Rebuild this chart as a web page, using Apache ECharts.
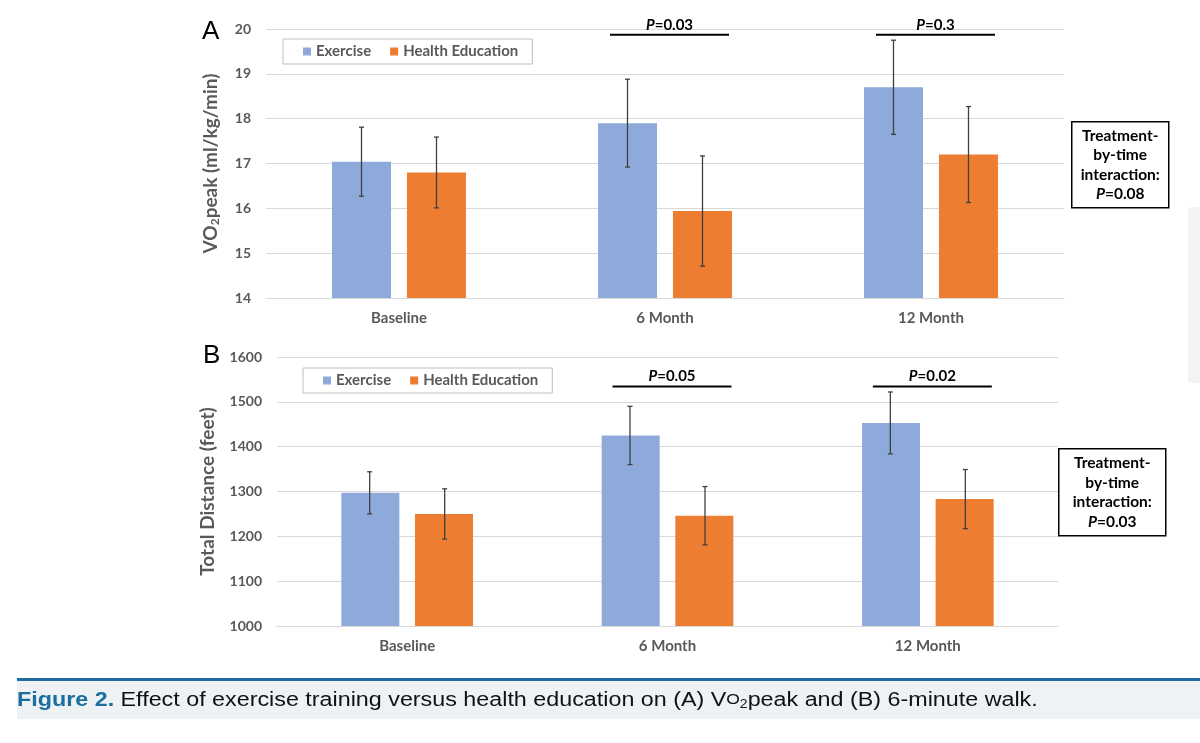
<!DOCTYPE html>
<html>
<head>
<meta charset="utf-8">
<title>Figure 2</title>
<script src="https://cdn.jsdelivr.net/npm/echarts@6/dist/echarts.min.js"></script>
<style>
  html, body { margin: 0; padding: 0; background: #fff; }
  #chart { width: 1200px; height: 743px; }
</style>
</head>
<body>
<div id="chart"></div>
<script>
// data
var categories = ["Baseline", "6 Month", "12 Month"];
var seriesNames = ["Exercise", "Health Education"];

// (A) VO2peak, ml/kg/min
var vo2Exercise = [17.04, 17.90, 18.70];
var vo2ExerciseErr = [0.77, 0.98, 1.05];
var vo2Health = [16.80, 15.94, 17.20];
var vo2HealthErr = [0.79, 1.23, 1.07];
var vo2Ticks = { min: 14, max: 20, step: 1 };
var vo2PValues = ["0.03", "0.3"];      // 6 Month, 12 Month
var vo2Interaction = "0.08";

// (B) 6-minute walk, total distance in feet
var walkExercise = [1297, 1425, 1453];
var walkExerciseErr = [47, 65, 69];
var walkHealth = [1250, 1246, 1283];
var walkHealthErr = [56, 65, 66];
var walkTicks = { min: 1000, max: 1600, step: 100 };
var walkPValues = ["0.05", "0.02"];
var walkInteraction = "0.03";

var caption = "Effect of exercise training versus health education on (A) V{sc|O}{sub|2}peak and (B) 6-minute walk.";

var BLUE = "#8eaadb", ORANGE = "#ed7d31", GREY = "#595959";
var FONT = "Lato";

// error bar pairs [cat, low, high]
function errData(mean, err) {
  return mean.map(function (m, i) { return [i, m - err[i], m + err[i]]; });
}

// custom renderer: whisker with small caps, shifted onto its bar
function errRender(shift) {
  return function (params, api) {
    var lo = api.coord([api.value(0), api.value(1)]);
    var hi = api.coord([api.value(0), api.value(2)]);
    var x = lo[0] + shift;
    var st = { stroke: "#404040", lineWidth: 1.3 };
    return {
      type: "group",
      children: [
        { type: "line", shape: { x1: x, y1: hi[1], x2: x, y2: lo[1] }, style: st },
        { type: "line", shape: { x1: x - 2.5, y1: hi[1], x2: x + 2.5, y2: hi[1] }, style: st },
        { type: "line", shape: { x1: x - 2.5, y1: lo[1], x2: x + 2.5, y2: lo[1] }, style: st }
      ]
    };
  };
}

// P value bracket above a category
function pRender(labels, lift) {
  return function (params, api) {
    var p = api.coord([api.value(0), api.value(1)]);
    var cx = p[0] + 4.5;
    return {
      type: "group",
      children: [
        { type: "line", shape: { x1: cx - 59.5, y1: p[1], x2: cx + 59.5, y2: p[1] },
          style: { stroke: "#000", lineWidth: 2 } },
        { type: "text", x: cx, y: p[1] - lift,
          style: {
            text: "{i|P}=" + labels[params.dataIndex],
            align: "center", verticalAlign: "bottom",
            fontFamily: FONT, fontWeight: "bold", fontSize: 15, fill: "#000",
            rich: { i: { fontStyle: "italic", fontWeight: "bold", fontSize: 15, fontFamily: FONT, fill: "#000" } }
          } }
      ]
    };
  };
}

function interactionBox(left, top, w, h, pv) {
  return {
    type: "group", left: left, top: top,
    children: [
      { type: "rect", shape: { x: 0, y: 0, width: w, height: h },
        style: { fill: "#fff", stroke: "#000", lineWidth: 1.5 } },
      { type: "text", x: w / 2, y: h / 2,
        style: {
          text: "Treatment-\nby-time\ninteraction:\n{i|P}=" + pv,
          align: "center", verticalAlign: "middle", lineHeight: 19.5,
          fontFamily: FONT, fontWeight: "bold", fontSize: 15.5, fill: "#000",
          rich: { i: { fontStyle: "italic", fontWeight: "bold", fontSize: 15.5, fontFamily: FONT, fill: "#000", lineHeight: 19.5 } }
        } }
    ]
  };
}

function legendAt(left, top) {
  return {
    left: left, top: top, orient: "horizontal",
    data: seriesNames, icon: "rect", itemWidth: 8, itemHeight: 8, itemGap: 19,
    padding: [5, 14, 5, 20], borderColor: "#bfbfbf", borderWidth: 1,
    selectedMode: false,
    textStyle: { fontFamily: FONT, fontWeight: "bold", fontSize: 15, color: GREY }
  };
}

function yAxisFor(ticks, gridIdx, nameRich, gap) {
  return {
    type: "value", gridIndex: gridIdx,
    min: ticks.min, max: ticks.max, interval: ticks.step,
    name: nameRich, nameLocation: "middle", nameGap: gap, nameRotate: 90,
    nameTextStyle: {
      fontFamily: FONT, fontWeight: "bold", fontSize: 19, color: GREY,
      rich: { sub: { fontFamily: FONT, fontWeight: "bold", fontSize: 12, color: GREY, verticalAlign: "bottom", padding: [9, 0, 0, 0] } }
    },
    axisLabel: { fontFamily: FONT, fontWeight: "bold", fontSize: 14, color: GREY, margin: 15,
      formatter: function (v) { return String(v); } },
    axisLine: { show: false }, axisTick: { show: false },
    splitLine: { lineStyle: { color: "#d9d9d9", width: 1 } }
  };
}

function xAxisFor(gridIdx) {
  return {
    type: "category", gridIndex: gridIdx, data: categories,
    axisLine: { lineStyle: { color: "#d9d9d9" } }, axisTick: { show: false },
    axisLabel: { fontFamily: FONT, fontWeight: "bold", fontSize: 15, color: GREY, margin: 13 }
  };
}

function barSeries(name, data, idx, color, width) {
  return {
    name: name, type: "bar", xAxisIndex: idx, yAxisIndex: idx,
    data: data, barWidth: width, barGap: "27%",
    itemStyle: { color: color }, silent: true
  };
}

var chart = echarts.init(document.getElementById("chart"));

var option = {
  animation: false,
  textStyle: { fontFamily: FONT },
  grid: [
    { left: 266, right: 136, top: 29, bottom: 445 },
    { left: 277, right: 142, top: 357, bottom: 117 }
  ],
  legend: [legendAt(283, 39), legendAt(303, 368)],
  xAxis: [xAxisFor(0), xAxisFor(1)],
  yAxis: [
    yAxisFor(vo2Ticks, 0, "VO{sub|2}peak (ml/kg/min)", 45),
    yAxisFor(walkTicks, 1, "Total Distance (feet)", 60)
  ],
  series: [
    barSeries(seriesNames[0], vo2Exercise, 0, BLUE, 59),
    barSeries(seriesNames[1], vo2Health, 0, ORANGE, 59),
    barSeries(seriesNames[0], walkExercise, 1, BLUE, 58),
    barSeries(seriesNames[1], walkHealth, 1, ORANGE, 58),
    { type: "custom", xAxisIndex: 0, yAxisIndex: 0, renderItem: errRender(-37.5),
      data: errData(vo2Exercise, vo2ExerciseErr), z: 5, silent: true },
    { type: "custom", xAxisIndex: 0, yAxisIndex: 0, renderItem: errRender(37.5),
      data: errData(vo2Health, vo2HealthErr), z: 5, silent: true },
    { type: "custom", xAxisIndex: 1, yAxisIndex: 1, renderItem: errRender(-37.5),
      data: errData(walkExercise, walkExerciseErr), z: 5, silent: true },
    { type: "custom", xAxisIndex: 1, yAxisIndex: 1, renderItem: errRender(37.5),
      data: errData(walkHealth, walkHealthErr), z: 5, silent: true },
    { type: "custom", xAxisIndex: 0, yAxisIndex: 0, renderItem: pRender(vo2PValues, 2),
      data: [[1, 19.87], [2, 19.87]], clip: false, silent: true },
    { type: "custom", xAxisIndex: 1, yAxisIndex: 1, renderItem: pRender(walkPValues, 3),
      data: [[1, 1534], [2, 1534]], clip: false, silent: true }
  ],
  graphic: [
    { type: "text", left: 202, top: 19,
      style: { text: "A", fontFamily: "Liberation Sans", fontSize: 26, fill: "#000" } },
    { type: "text", left: 203, top: 343,
      style: { text: "B", fontFamily: "Liberation Sans", fontSize: 26, fill: "#000" } },
    interactionBox(1071, 121, 97, 86, vo2Interaction),
    interactionBox(1058, 448, 107, 87, walkInteraction),
    // faint page edge on the right
    { type: "rect", left: 1188, top: 207, shape: { width: 14, height: 176, r: 4 },
      style: { fill: "#f3f3f3" }, silent: true },
    // caption band
    { type: "rect", left: 17, top: 681, shape: { width: 1183, height: 38 },
      style: { fill: "#eef2f5" }, silent: true },
    { type: "rect", left: 17, top: 678, shape: { width: 1183, height: 3 },
      style: { fill: "#1b6e9f" }, silent: true },
    { type: "text", x: 17, y: 689, scaleX: 1.165,
      style: {
        text: "{fig|Figure 2.} " + caption,
        fontFamily: "Liberation Sans", fontSize: 20, fill: "#111",
        rich: {
          fig: { fontFamily: "Liberation Sans", fontWeight: "bold", fontSize: 20, fill: "#1b6e9f" },
          sc: { fontFamily: "Liberation Sans", fontSize: 15, fill: "#111" },
          sub: { fontFamily: "Liberation Sans", fontSize: 12, fill: "#111", verticalAlign: "bottom", padding: [10, 0, 0, 0] }
        }
      } }
  ]
};

chart.setOption(option);
</script>
</body>
</html>
